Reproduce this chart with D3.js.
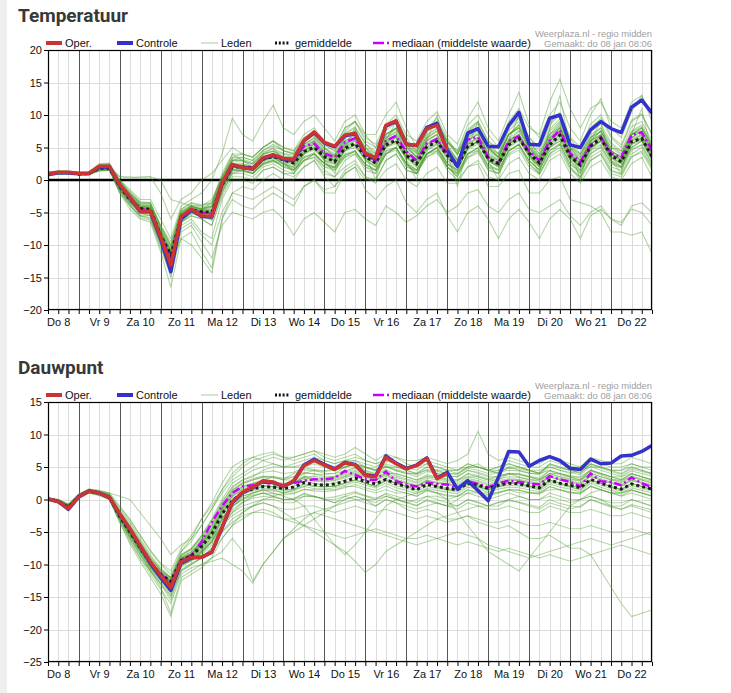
<!DOCTYPE html>
<html><head><meta charset="utf-8">
<script src="https://cdn.jsdelivr.net/npm/d3@7"></script>
<style>body{margin:0;background:#fff;}svg{display:block;}</style>
</head><body><svg id="c" width="731" height="693"></svg>
<script>
// ---- DATA ----
const startTime = Date.UTC(2026,0,8,6);
const endTime = Date.UTC(2026,0,23,0);
const stepHours = 6;
const dayLabels = ["Do 8","Vr 9","Za 10","Zo 11","Ma 12","Di 13","Wo 14","Do 15","Vr 16","Za 17","Zo 18","Ma 19","Di 20","Wo 21","Do 22"];
const tempTicks = [-20,-15,-10,-5,0,5,10,15,20];
const dewTicks = [-25,-20,-15,-10,-5,0,5,10,15];
const legendLabels = ["Oper.","Controle","Leden","gemiddelde","mediaan (middelste waarde)"];
const sourceText = ["Weerplaza.nl - regio midden","Gemaakt: do 08 jan 08:06"];

const tempOper = [0.9,1.2,1.2,1.0,1.0,2.1,2.1,-0.7,-2.6,-4.8,-4.8,-8.7,-13.1,-5.6,-4.5,-5.5,-5.6,-0.5,2.4,1.9,1.7,3.4,3.9,3.3,3.2,6.1,7.4,5.8,5.2,6.9,7.2,4.1,3.4,8.4,9.1,5.5,5.3,7.9,8.4,4.6];
const tempControl = [0.8,1.1,1.1,1.0,1.0,2.0,2.0,-0.8,-2.7,-4.9,-4.9,-9.0,-14.1,-6.0,-4.6,-5.6,-5.7,-0.6,2.3,1.9,1.7,3.3,3.8,3.2,3.0,6.0,7.3,5.7,5.1,6.8,7.1,4.0,3.3,8.3,9.0,5.5,5.3,8.1,8.7,4.6,2.1,7.2,7.9,5.2,5.1,8.4,10.4,5.5,5.4,9.5,10.0,5.4,5.0,7.7,9.0,7.9,7.3,11.2,12.3,10.3];
const tempMean = [1.0,1.1,1.1,0.9,1.0,1.8,1.8,-1.0,-3.0,-4.4,-4.5,-8.5,-11.5,-5.8,-4.6,-4.9,-5.0,-0.8,2.0,2.0,1.8,3.2,3.6,3.1,2.6,4.4,5.0,3.6,2.8,4.9,5.6,3.6,2.6,5.4,6.1,3.8,2.5,5.1,5.9,3.8,2.1,5.2,5.9,3.3,2.5,5.4,6.4,4.1,2.6,5.4,6.9,3.6,2.3,5.2,6.4,3.8,2.8,5.9,6.4,3.6];
const tempMedian = [1.0,1.1,1.1,0.9,1.0,1.9,1.9,-0.9,-2.9,-4.5,-4.6,-8.6,-12.0,-5.6,-4.5,-5.0,-5.2,-0.5,2.2,2.0,1.9,3.4,3.8,3.3,3.0,5.2,5.6,4.1,3.5,5.8,6.4,3.8,3.0,6.0,6.8,4.4,3.0,5.6,6.3,3.8,2.2,6.2,6.6,3.5,2.6,6.0,6.7,4.4,3.0,6.0,7.7,4.1,2.8,5.4,6.6,4.1,3.5,6.9,7.3,4.6];
const tempMembers = [
[1,1.2,1.3,1,1.1,2,2.2,-0.5,-2.5,-4,-4.2,-8,-11,-5,-4,-4.5,-4.8,-0.5,2.5,2.5,2,3.5,4,3.5,3,5,6,4,3,5.5,6.5,4,3,6,7,4.5,3,6,7,4.5,2.5,6,7,4,3,6,7.5,5,3,6,8,4,2.5,6,7,4.5,3,6.5,7.5,4.5],
[0.8,1,1,0.8,0.9,1.6,1.7,-1.5,-3.5,-5,-5.5,-9.5,-14,-6.5,-5,-5.5,-6,-1.5,1.5,1.5,1,2.5,3,2,1.5,3,4,2.5,1.5,3.5,4.5,2,1,4,5,2.5,1,3.5,4.5,2,0.5,3.5,4.5,1.5,1,4,5,2.5,1,4,5.5,2,0,3,4,1,0.5,3.5,4.5,2],
[1.2,1.4,1.3,1.1,1.2,2.4,2.5,0,-2,-3.5,-3.5,-7,-10,-4.5,-3.5,-4,-3,0.5,3.5,4,3.5,5,6,5,4.5,7,8,6,5,8,9,6.5,5.5,8.5,10,7,6,9,10.5,7,5.5,9.5,12,8,6,10,13.5,8.5,6.5,10,12,8,6,10,12.5,8,6.5,10.5,13,9],
[1,1.1,1.2,1,1,2,2,0.5,0.5,0.3,0.5,-2,-6,-3,-2,0,1,3,5,4,3.5,5,6,4.5,4,6,7,5,4,7,8,5.5,4,7,8,5,3.5,6.5,7.5,5,3,6.5,8,5,3.5,7,8.5,5.5,3,6.5,8,5,3,6,7.5,4.5,3.5,7,8,5],
[0.9,1,1,0.9,0.9,1.5,1.6,-2,-4.5,-6,-6.5,-11,-16.5,-9,-8,-11,-13.5,-6,-3,-4,-4.5,-3,-2,-3,-4,-1,0,-2,-2,1,2,0,0,3,4,1.5,1,4,5,2,0.5,4,5,2,1,4.5,5.5,2.5,1,4,5,2,0.5,3.5,4.5,1.5,1,4,5,2],
[0.8,0.9,0.9,0.8,0.8,1.4,1.5,-2,-4,-5.5,-6,-10,-15,-8,-7,-9.5,-12,-7,-5,-5.5,-6,-5,-4.5,-6,-8.5,-6,-5,-6.5,-8,-5,-4.5,-6,-7,-4,-5,-6.5,-5.5,-4,-3,-5,-4,-2,-1.5,-4,-5,-3,-2,-4.5,-5,-4,-3,-5.5,-7,-5,-4,-6,-6.5,-4.5,-5,-7],
[1,1.1,1.1,0.9,1,1.8,1.9,-1,-3,-4.5,-4.5,-8.5,-12,-6,-4.5,-5,-5,-1,1.5,1.5,1,3,3.5,2.5,2,4,5,3,2,4.5,5.5,3,2,5,6,3,1.5,4,4.5,1.5,0,2,2.5,-1,-1,1,1.5,-2,-2,0,0.5,-3,-3.5,-4,-5,-8,-8,-8.5,-8,-11.3],
[0.9,1,1.1,0.9,1,1.7,1.8,-1.2,-3.2,-4.8,-5,-9,-12.5,-6.5,-5.5,-6,-7,-2,1,1,0.5,2,2.5,1.5,1,3,3.5,2,1.5,3.5,4,2,1.5,4,5,2.5,1,4,5,2,1,4,5,2.5,1.5,4.5,5.5,3,1.5,5,6,3,1,4.5,5.5,2.5,2,5,6,3],
[1.1,1.3,1.3,1.1,1.2,2.2,2.3,-0.3,-2.2,-3.8,-3.8,-7.5,-10.5,-5,-4,-4.5,-4,0,3,3,2.5,4,4.5,4,3.5,5.5,6.5,5,3.5,6.5,7.5,5,3.5,7,8,5.5,3.5,7,8,5.5,3,7,8,5,3.5,7,8.5,6,3.5,7.5,9,5.5,3.5,7,8,5.5,4,7.5,8.5,5.5],
[1,1.2,1.2,1,1.1,2,2,0,-1.5,-3,-3,-6,-9,-4,-3,-2,0,4,9.5,7,6,9,11.5,8,7,9,10,8,6,9,10,7,5,8,9,6,4.5,8,9,6,4,7,8,5,4,7,8,6,4,7,8,5,4,6.5,7.5,5,4.5,7,8,5.5],
[0.7,0.9,0.9,0.7,0.8,1.4,1.5,-1.8,-3.8,-5.5,-5.8,-10,-13.5,-7,-6,-8,-9,-3,0,0,-0.5,1.5,2,1,1,3,4,2,2,4.5,5.5,3,2,5,6,3.5,2.5,5.5,6.5,4,2,5.5,6.5,3.5,2.5,6,7,4,2.5,6,7.5,4,2,5.5,6.5,3.5,2.5,6,7,4],
[1,1.1,1.1,1,1,1.9,2,0.5,0.3,0.5,0.5,0,-3,-3.5,-4,-5,-6,-2,1,1.5,1,2.5,3,2.5,2,4,5,3,2.5,5,6,3.5,2.5,5.5,6.5,3.5,2,5,6,3,1.5,5,6,3,2,5.5,7,4,2,6,7.5,4,1.5,5,6,3.5,2,5.5,6.5,3.5],
[1.1,1.2,1.2,1,1.1,2.1,2.2,-0.8,-2.8,-4.2,-4.4,-8.2,-11.5,-5.5,-4.5,-4.8,-5,-0.5,2,2,1.5,3,3.5,3,2.5,4.5,5.5,3.5,3,5.5,6.5,4.5,3.5,6.5,8,5.5,4,7.5,9,6,4.5,8.5,10,7,5,9,11,8,7,12,15.5,11,8,11,12,9,8,12,13,10],
[0.9,1,1,0.9,0.9,1.6,1.7,-1.5,-3.5,-5.2,-5.5,-9.5,-13,-9,-10,-12,-14.3,-6,-2,-1,-1.5,0,1,0,0,2,3,1,0.5,3,4,1.5,1,4,5,2,1.5,4.5,5.5,2.5,1.5,5,6,3,2,5.5,6.5,3.5,2,5.5,7,3.5,2,5,6,3,2,5.5,6.5,3.5],
[1,1.1,1.1,0.9,1,1.8,1.8,-1,-3,-4.5,-4.6,-8.6,-11.8,-5.8,-4.6,-5,-5.2,-1,2,2,1.8,3.2,3.6,3,2.5,4.4,5,3.5,2.8,5,5.5,3.5,2.5,5.5,6,3.8,2.5,5,6,3.8,2,5,6,3.3,2.5,5.5,6.5,4,2.5,5.5,7,3.5,2.3,5,6.5,3.8,2.8,6,6.5,3.5],
[1,1.1,1.1,1,1,1.8,1.9,-1,-2.8,-4.3,-4.4,-8.3,-11.3,-5.6,-4.4,-4.7,-4.5,0,2,2,1.5,3,3.5,2.5,1.5,3,3.5,1.5,0.5,2,3,0.5,-0.5,1.5,2.5,0,-1,1,2,-0.5,-0.5,2,3,0.5,0,2.5,3.5,1,0,3,4,1,-0.5,2,3,0.5,0,2.5,3.5,0.5],
[1.2,1.4,1.4,1.2,1.3,2.5,2.6,0,-1.8,-3.3,-3.5,-7,-9.5,-4.5,-3.5,-3.8,-3.5,0.5,4,4,3.5,5,6,5,4.5,6.5,7.5,5.5,4.5,7.5,9,6,5,8,9.5,6.5,4.5,8,9.5,6.5,4,7.5,9,6,4,8,9.5,6.5,4.5,8.5,10,6.5,4,8,9.5,6.5,5,9,10,7],
[0.8,0.9,1,0.8,0.9,1.5,1.6,-1.5,-3.8,-5.5,-5.5,-9.8,-13.5,-6.5,-5.5,-6,-7,-2.5,0.5,0.5,0,1.5,2,1,0.5,2,3,0.5,-1,1,2,-1.5,-3,-1,0,-3.5,-5,-3,-2,-5.5,-8,-5,-4,-6,-9,-6,-4.5,-6.5,-9,-6,-4.5,-6,-9,-5.5,-4.5,-6,-7,-4,-3.5,-5],
[1,1.2,1.2,1,1.1,2,2.1,-0.6,-2.6,-4.1,-4.2,-8,-11,-5.3,-4.3,-4.6,-4.3,-0.3,2.5,2.3,2,3.6,4,3.3,3,5,5.7,4,3.3,5.8,6.5,4,3,6,7,4.3,3,6.3,7,4.3,2.5,6.2,7,3.8,3,6.2,7,4.5,3,6.2,8,4,2.8,5.5,6.8,4,3.3,7,7.5,4.5],
[1,1.2,1.1,1,1.1,2,2,-0.8,-2.5,-4,-4.3,-8,-12.5,-5.5,-4,-4.5,-3.5,1,4,3,2,4,5,3,1,4,6,3,1,5,8,4,0,6,9,3,0,6,10,4,-1,5,9,3,0,6,10,4,1,8,13,5,0,6,9,3,1,7,11,4],
[0.9,1,1,0.9,0.9,1.6,1.7,-1.6,-4,-5.8,-6.2,-10.5,-14.5,-7.5,-6.5,-8.5,-10,-5,-2,-2.5,-3,-2,-1,-2,-3,-1,0,-1.5,-1,1.5,2.5,0.5,0,3,4,1.5,1,4,5,2.5,1.5,5,6,3,2,5.5,6.5,3.5,2,5,6,3,1.5,5,6,3,2,5,6,3.5],
[1.1,1.3,1.3,1.1,1.2,2.3,2.3,-0.2,-2,-3.5,-3.6,-7.2,-10,-4.8,-3.8,-4,-3.5,0.5,3,3.5,3,4.5,5.5,4.5,4,6,7,5.5,5,8,9,7,7,10,12,8,5,8,9,6,4,7,8,5,3.5,7,8,5,3,6.5,7.5,4.5,3,6,7,4,3,6.5,7.5,4.5],
[0.9,1,1,0.9,1,1.7,1.7,-1.3,-3.3,-4.9,-5.1,-9.2,-12.8,-6.2,-5,-5.5,-6,-1.5,1.5,1.5,1,2.5,3,2,1.5,3.5,4,2.5,2,4,4.5,2.5,1.5,4.5,5,2.5,1.5,4,5,2.5,1,4,4.5,2,1.5,4.5,5.5,3,1.5,4.5,5.5,2.5,1,4,5,2,1.5,4.5,5.5,2.5],
[1,1.2,1.2,1,1.1,2,2.1,-0.6,-2.4,-3.9,-4,-7.8,-10.8,-5.2,-4.2,-4.4,-4,0,3,3,2.5,4,4.5,3.5,3.5,5.5,6.5,4.5,3.5,6,7,4.5,3.5,6.5,7.5,5,3.5,6.5,7.5,5,3,6.5,7.5,4.5,3.5,7,8,5,3.5,7,8.5,5,3,6.5,7.5,4.5,3.5,7,8,5],
[1,1.1,1.2,1,1,1.9,2,-0.9,-2.9,-4.4,-4.5,-8.4,-11.6,-5.7,-4.6,-4.8,-4.9,-0.7,2.1,2.1,1.8,3.3,3.7,3.1,2.7,4.6,5.3,3.8,3,5.2,6,3.8,2.8,5.8,6.5,4,2.7,5.4,6.3,4,2.3,5.5,6.3,3.5,2.7,5.8,6.8,4.3,2.8,5.8,7.3,3.8,2.5,5.5,6.8,4,3,6.2,6.8,3.8],
[0.9,1,1,0.9,0.9,1.7,1.7,-1.2,-3.3,-4.7,-4.8,-8.8,-12.3,-6.2,-5,-5.3,-5.6,-1.2,1.6,1.7,1.5,2.8,3.2,2.7,2.2,4,4.6,3.2,2.4,4.5,5,3.2,2.2,5,5.6,3.4,2.1,4.6,5.5,3.4,1.8,4.7,5.5,3,2.2,5,6,3.7,2.2,5,6.4,3.2,2,4.6,6,3.4,2.5,5.5,6,3.2],
[1.1,1.2,1.2,1,1.1,2,2.1,-0.7,-2.7,-4.2,-4.3,-8.1,-11.2,-5.5,-4.4,-4.7,-4.6,-0.4,2.4,2.4,2.1,3.6,4.1,3.5,3.2,5.2,6,4.2,3.4,6,6.8,4.3,3.2,6.4,7.3,4.6,3.2,6,7,4.6,2.8,6.2,7.2,4.2,3.2,6.4,7.6,4.8,3.2,6.5,8.3,4.3,3,6,7.6,4.5,3.4,7,7.6,4.3],
[1,1.1,1.1,0.9,1,1.8,1.9,-1.1,-3.1,-4.6,-4.7,-8.7,-12,-6,-4.8,-5.1,-5.3,-1,1.8,1.9,1.7,3,3.4,2.9,2.4,4.2,4.8,3.4,2.6,4.7,5.3,3.4,2.4,5.2,5.8,3.6,2.3,4.8,5.7,3.6,1.9,4.9,5.8,3.1,2.3,5.2,6.2,3.9,2.4,5.2,6.6,3.4,2.1,4.8,6.2,3.6,2.6,5.7,6.2,3.4],
[1.2,1.3,1.3,1.1,1.2,2.2,2.3,-0.4,-2.3,-3.8,-3.9,-7.6,-10.6,-5.1,-4.1,-4.4,-4.1,0.2,3.2,3.2,2.7,4.3,4.8,4.1,3.8,6,6.8,4.8,3.8,6.6,7.6,4.8,3.6,7,7.8,5.2,3.6,6.8,7.8,5.2,3.2,6.8,7.8,4.8,3.6,7,8.2,5.4,3.6,7,8.8,5,3.4,6.6,8,5,3.8,7.4,8.2,5],
[0.9,1,1,0.8,0.9,1.6,1.6,-1.3,-3.4,-5,-5.2,-9.3,-12.9,-6.4,-5.2,-5.6,-6.2,-1.8,1.2,1.3,1,2.3,2.8,2.2,1.6,3.4,4,2.5,1.8,3.8,4.4,2.4,1.6,4.4,5,2.6,1.5,4,4.9,2.6,1.2,4.1,4.8,2.2,1.6,4.4,5.4,2.9,1.6,4.5,5.6,2.5,1.3,4.1,5.2,2.6,1.8,4.8,5.3,2.6],
[1.1,1.3,1.3,1.1,1.2,2.3,2.4,-0.2,-2.1,-3.6,-3.7,-7.3,-10.2,-4.9,-3.9,-4.2,-3.8,0.4,3.4,3.5,3,4.6,5.2,4.5,4.2,6.4,7.4,5.4,4.4,7.2,8.2,5.6,4.4,7.6,8.8,6,4.2,7.4,8.6,5.8,3.8,7.4,8.6,5.4,4,7.6,9,6,4,7.8,9.4,5.8,3.8,7.4,8.6,5.8,4.4,8.2,9,6],
[1,1.2,1.2,1,1,2,2,-0.9,-2.8,-4.3,-4.4,-8.3,-11.4,-5.6,-4.5,-4.7,-4.7,-0.6,2.2,2.2,1.9,3.4,3.8,3.2,2.8,4.8,5.5,4,3.1,5.4,6.2,3.9,2.9,5.9,6.7,4.1,2.9,5.6,6.6,4.1,2.4,5.6,6.6,3.6,2.9,5.9,7,4.4,2.9,6,7.6,3.9,2.6,5.6,7,4.1,3.1,6.4,7,4],
[0.9,1,1,0.9,1,1.7,1.8,-1.2,-3.2,-4.7,-4.9,-8.9,-12.2,-6.1,-4.9,-5.3,-5.6,-1.3,1.5,1.5,1.2,2.6,3,2.4,1.8,3.6,4.2,2.6,1.8,3.8,4.4,2.4,1.4,4,4.6,2.2,1,3.6,4.2,2,0.8,3.4,4.2,1.6,1,3.8,4.6,2,0.8,3.6,4.6,1.6,0.5,3,4,1.4,0.8,3.6,4.2,1.6],
[1.1,1.2,1.3,1.1,1.1,2.1,2.2,-0.6,-2.6,-4,-4.1,-7.9,-10.9,-5.3,-4.3,-4.5,-4.2,0,2.8,2.8,2.4,3.9,4.4,3.7,3.4,5.4,6.2,4.4,3.8,6.4,7.4,5,4,7,8,5.4,4.2,7.4,8.4,5.8,4.4,7.8,9,6,4.8,8.4,9.6,6.6,5,8.8,10.4,6.6,5,8.6,10,6.8,5.4,9.2,10.2,7]
];

const dewOper = [0.1,-0.3,-1.4,0.4,1.3,1.0,0.3,-2.2,-4.5,-7.1,-9.6,-11.7,-13.5,-9.6,-8.9,-8.9,-8.1,-4.3,-0.4,1.1,1.9,2.9,2.7,2.0,2.9,5.2,6.0,5.3,4.6,5.6,5.3,3.7,3.5,6.5,5.5,4.7,5.2,6.3,3.2,4.0];
const dewControl = [0.1,-0.3,-1.5,0.4,1.3,1.0,0.3,-2.3,-4.6,-7.2,-9.8,-12.0,-14.0,-9.8,-9.0,-8.9,-8.1,-4.4,-0.5,1.0,1.8,2.8,2.6,2.0,2.8,5.3,6.2,5.4,4.7,5.7,5.4,3.8,3.6,6.7,5.6,4.8,5.3,6.4,3.3,4.2,1.6,2.9,1.4,-0.2,3.4,7.4,7.3,5.1,6.0,6.6,6.0,4.8,4.6,6.2,5.5,5.6,6.7,6.8,7.4,8.3];
const dewMean = [0.1,-0.3,-1.2,0.5,1.3,1.0,0.3,-2.6,-5.0,-7.4,-9.8,-11.5,-12.6,-9.4,-8.7,-7.2,-5.3,-2.2,-0.2,1.1,1.6,2.0,1.9,1.7,1.9,2.6,2.3,2.2,2.4,2.8,3.3,2.8,2.4,3.1,2.4,2.0,1.5,2.3,2.0,1.7,1.5,2.5,2.2,1.7,2.2,2.5,2.4,2.1,1.8,3.0,2.5,2.2,1.8,3.1,2.5,2.0,1.6,2.4,2.0,1.6];
const dewMedian = [0.1,-0.3,-1.2,0.5,1.3,1.0,0.4,-2.3,-4.7,-7.2,-9.6,-11.5,-12.8,-9.3,-8.6,-6.5,-3.5,-1.0,1.0,2.0,2.2,2.6,2.4,2.2,2.5,2.9,3.1,3.1,3.3,4.4,3.8,3.1,3.0,4.3,2.8,2.3,2.0,2.6,2.4,2.3,1.7,2.8,2.4,1.9,2.5,2.9,2.7,2.5,2.3,3.6,3.1,2.7,2.0,4.0,2.8,2.7,2.2,3.4,2.5,1.9];
const dewMembers = [
[0.1,-0.3,-1.2,0.5,1.3,1,0.4,-2.5,-5,-7.5,-10,-11.8,-13,-9.5,-8.5,-7,-5,-2,0,1.2,1.8,2.2,2,1.8,2,2.8,2.5,2.3,2.5,3,3.5,3,2.5,3.2,2.5,2,1.5,2.5,2,1.8,1.5,2.5,2.2,1.8,2.2,2.6,2.4,2.1,1.8,3,2.5,2.2,1.8,3.1,2.5,2,1.6,2.4,2,1.6],
[0.2,-0.1,-0.8,0.7,1.5,1.2,0.8,-1.5,-3.5,-6,-8.5,-10.5,-12,-8.5,-7.5,-5.5,-3,0,2.5,3.5,4.5,5,5.5,5,5,5.5,6,5.5,5,5.5,6,5,4.5,5.5,5,4.5,4,5,4.5,4.5,4,5,5,4.5,4.5,5.5,5,4.5,4,5.5,5,4.5,4,5.5,5,4.5,4,5,4.5,4],
[-0.1,-0.6,-1.8,0.2,1,0.6,0,-3.5,-6.5,-9,-11,-13.5,-17.5,-12,-11,-10,-9,-8,-6,-8,-12.5,-10,-8,-6,-5,-4,-3,-2,-1,0,0.5,0,-1,0,-0.5,-1,-1.5,-1,-0.5,-1,0,1,0.5,0,0.5,1,0.5,0,0,1,0.5,0,0,0.5,0,-0.5,-0.5,0,-0.5,-1],
[0.2,0,-0.8,0.8,1.5,1.3,1,0.5,0,-2,-4,-6,-8.5,-7,-6,-4,-1.5,1,3,4,5,6,6.5,6,6.5,7,7.5,6.5,6,6.5,7,6,5.5,6,6.5,5.5,5,6,5.5,5,4.5,5.5,5,4.5,4,5,4.5,4,4,4.5,4,3.5,3.5,4.5,4,3.5,3.5,4,3.5,3],
[0,-0.4,-1.4,0.4,1.2,0.9,0.2,-2.8,-5.5,-8,-10.5,-12.5,-14.5,-10,-9.5,-8,-6.5,-4,-2,-0.5,0.5,1,0.5,0,0,1,0.5,0,-0.5,0.5,0,-0.5,-1,0,-0.5,-1.5,-2,-1.5,-2,-3,-3,-2.5,-3.5,-4,-4.5,-4,-5,-6,-6,-5.5,-6.5,-7.5,-7.5,-8.5,-11,-13.5,-16,-18,-17.5,-17],
[0,-0.5,-1.5,0.3,1.1,0.8,0.1,-3,-6,-8.5,-11,-13,-15.5,-11,-10,-9,-7.5,-5,-3,-2,-1,-0.5,-1,-2,-3,-4,-5,-6,-7,-8,-9.5,-11.2,-10,-8,-7,-6,-5,-4,-3,-2.5,-2,-1.5,-1,-1,-0.5,0,0.5,0,0,0.5,0,-0.5,0,0.5,0,-1,-1.5,-1,-1.5,-2],
[0.3,0,-0.7,0.8,1.6,1.4,1,-1,-3,-5.5,-8,-10,-11.5,-8,-6.5,-4,-1.5,1.5,4,5.5,6.5,7,7.3,6.5,6.5,7,7.5,7,6.5,7,8,7,6,7,6.5,6,6,6.5,6,5.5,6,7,10.5,7,6,6.5,6,5.5,5.5,6.5,6,5.5,5,6,5.5,5,5,5.5,5,5],
[0,-0.4,-1.3,0.4,1.2,0.9,0.3,-2.8,-5.3,-7.8,-10.3,-12.2,-14,-10,-9,-8,-6.5,-3,-1,0,0.5,1,0.5,0,0,0.5,0.5,0,0,0.5,1,0.5,0,1,0.5,0,-0.5,0.5,0,-0.5,-1,0,-0.5,-1,-1,0,-0.5,-1,-1.5,-0.5,-1,-1.5,-1,0,-0.5,-1,-1,0,-0.5,-1],
[0.1,-0.2,-1,0.6,1.4,1.1,0.6,-2,-4.5,-7,-9.5,-11.3,-12.5,-9,-8,-6.5,-4,-1,1.5,2.5,3,3.5,3.5,3,3.5,4,4,3.5,3.5,4,4.5,4,3.5,4,4,3.5,3,3.5,3.5,3,3,3.5,3.5,3,3,4,3.5,3,3,4,4,3.5,3,4.5,4,3.5,3,4,3.5,3],
[0,-0.5,-1.5,0.3,1.1,0.8,0.1,-3,-5.8,-8.5,-11,-13,-15,-11,-10,-9,-8,-6,-4,-3,-2,-1.5,-2,-3,-3.5,-4,-4.5,-5,-5.5,-6,-5.5,-5,-4.5,-5,-5.5,-6,-6,-5.5,-6,-6.5,-7,-6.5,-7,-7.5,-8,-7.5,-8,-8.5,-9,-8.5,-9,-9.5,-9,-8.5,-8,-7.5,-7,-7.5,-8,-8.5],
[0.1,-0.3,-1.1,0.5,1.3,1,0.5,-2.3,-4.8,-7.2,-9.8,-11.5,-12.8,-9.3,-8.5,-7,-5,-2,0,1,1.5,2,2,1.5,1.5,2.5,2,2,2,2.5,3,2.5,2,3,2.5,2,1.5,2.5,2,1.5,1.5,2.5,2,1.5,2,2.5,2.5,2,1.5,3,2.5,2,1.5,3,2.5,2,1.5,2.5,2,1.5],
[0.2,-0.1,-0.9,0.7,1.5,1.2,0.7,-1.8,-4,-6.5,-9,-10.8,-12,-8,-6,-3,-0.5,2.5,5,6,6.5,6,5.5,5,5,5,5.5,5,4.5,5,5.5,4.5,4,5,4.5,4,4,4.5,4,3.5,3.5,4.5,4,3.5,3.5,4,4,3.5,3,4,3.5,3,3,4,3.5,3,3,3.5,3,2.5],
[0,-0.5,-1.6,0.2,1,0.7,0,-3.2,-6.2,-9,-11.5,-13.8,-16,-11.5,-10.5,-10,-9.5,-9,-10,-11,-12.9,-10,-8,-6,-4.5,-3,-2,-1.5,-1,-0.5,0,0,0,0.5,0,-0.5,0,0.5,0.5,0,0.5,1,1,0.5,1,1.5,1,1,1,1.5,1.5,1,1,2,1.5,1,1,1.5,1,0.5],
[0.1,-0.2,-1,0.6,1.4,1.1,0.6,-2.2,-4.6,-7,-9.5,-11.2,-12.5,-9,-8.3,-6.8,-4.5,-1.5,1,2,2.5,3,3.5,3,3,4,4.5,4,4,5,5.5,5,4.5,5,5,4.5,4,5,4.5,4,4,5,5.5,4.5,4,5,5,4.5,4,5.5,5,4.5,4.5,5.5,5,4.5,4.5,5.5,5,4.5],
[0,-0.4,-1.3,0.4,1.2,0.9,0.3,-2.6,-5.2,-7.6,-10.2,-12,-13.8,-10.2,-9.2,-8.5,-7,-4,-2.5,-1.5,-1,-0.5,-1,-1.5,-1.5,-1,-1,-1.5,-2,-1.5,-1,-1.5,-2,-1.5,-2,-2.5,-3,-2.5,-3,-3.5,-3,-2.5,-3,-3.5,-3.5,-3,-3.5,-4,-4,-3.5,-4,-4.5,-4.5,-4,-4.5,-5,-5,-4.5,-5,-5.5],
[0.1,-0.3,-1.2,0.5,1.3,1,0.4,-2.4,-4.9,-7.4,-9.9,-11.6,-12.9,-9.4,-8.6,-7.2,-5.3,-2.2,-0.2,1.1,1.6,2,1.9,1.7,2.9,3.6,3.3,3.2,3.4,3.8,4.3,3.8,3.4,4.1,3.4,3,2.5,3.3,3,2.7,2.5,3.5,3.2,2.7,3.2,3.5,3.4,3.1,2.8,4,3.5,3.2,2.8,4.1,3.5,3,2.6,3.4,3,2.6],
[0.1,-0.2,-1.1,0.6,1.4,1,0.5,-2.1,-4.6,-7.1,-9.6,-11.4,-12.6,-9.2,-8.4,-6.8,-4.8,-1.5,0.5,1.5,2,2.5,2.5,2.2,2.5,3.5,3,2.8,3,3.5,4,3.5,3,3.8,3,2.5,2,3,2.5,2.5,2,3,2.5,1.5,2.5,3,3,2.5,2.5,3.5,3,2.5,2.5,3.5,3,2.5,2,3,2.5,2],
[0,-0.5,-1.5,0.3,1.1,0.8,0.1,-3,-5.8,-8.3,-10.8,-12.8,-14.8,-10.8,-9.8,-9,-7.5,-5,-3.5,-2.5,-2,-2,-2.5,-3,-3,-2.5,-2,-2.5,-3,-3.5,-4,-4.5,-5,-5.5,-6,-6.5,-7,-6.5,-6,-5.5,-5,-5.5,-6,-7,-7.5,-8,-8.5,-9,-8.5,-8,-7.5,-7,-6.5,-6,-6.5,-7,-6.5,-6,-5.5,-5],
[0.2,-0.1,-0.9,0.7,1.5,1.2,0.7,-1.7,-3.8,-6.3,-8.8,-10.8,-12.2,-8.6,-7.6,-5.8,-3.5,-0.5,2,3,3.5,4.5,5,5,5.5,6,6.5,6,5.5,6,6.5,6,5.5,6,5.5,5,5,5.5,5,4.5,4.5,5,5,4.5,5,5.5,5,4.5,4.5,5,4.5,4,4.5,5,5,4.5,4.5,5,4.5,4],
[0.1,-0.3,-1.2,0.5,1.3,1,0.4,-2.5,-5,-7.5,-10,-11.8,-13.2,-9.6,-8.8,-7.5,-5.8,-3,-1,0.5,1,1.5,1.5,1,1,1.5,1.5,1.5,1.5,2,2,1.5,1,1.5,1,1,0.5,1.5,1,0.5,0.5,1.5,1,1,1,1.5,1.5,1,1,2,1.5,1,1,2,1.5,1,1,1.5,1,0.5],
[0,-0.5,-1.6,0.2,1,0.7,0,-3.5,-6.8,-9.5,-12,-14.5,-18,-12.5,-11.5,-10.5,-9,-6,-4,-2,-1,0,0.5,1,1.5,2,2.5,2,2,2.5,3,2.5,2,3,2.5,2,2,2.5,2,1.5,1.5,2.5,2,1.5,2,2.5,2.5,2,2,3,2.5,2,2,3,2.5,2,1.5,2.5,2,1.5],
[0.2,0,-0.8,0.8,1.6,1.3,0.9,-1.2,-3.2,-5.5,-7.8,-9.8,-11,-7.5,-5.5,-3,-1,1.5,3.5,5,6,6.5,7,6.5,6,6.5,7,6,5.5,6,6,5.5,5,6,5.5,5,4.5,5.5,5,4.5,4.5,5.5,5,4.5,5,6,5.5,5,5,6,5.5,5,5,6.5,6,5.5,5.5,6.5,6,5.5],
[0,-0.4,-1.3,0.4,1.2,0.9,0.3,-2.7,-5.4,-7.9,-10.4,-12.3,-14.2,-10.4,-9.4,-8.2,-6.5,-4,-2,-1,-0.5,0,0,-0.5,-0.5,0.5,0.5,0,-0.5,0,0.5,0,-0.5,0.5,0,-0.5,-1,0,-0.5,-1,-1.5,-0.5,-1,-1.5,-1.5,-1,-1.5,-2,-2,-1,-1.5,-2,-2,-1.5,-2,-2.5,-2.5,-2,-2.5,-3],
[0.1,-0.3,-1.2,0.5,1.3,1,0.4,-2.4,-5,-7.5,-10,-12,-13.5,-9.8,-9,-7.8,-6,-3,-1,0,1,1.5,1,0.5,0,-1,-3,-5,-7,-8.5,-7,-5,-3,-1,0,0.5,1,1.5,1,0,-2,-4,-6,-8,-9,-10,-11,-9,-7,-5,-3,-1,0,1,1.5,1,0.5,1,0.5,0],
[0.1,-0.2,-1.1,0.6,1.4,1.1,0.5,-2.3,-4.8,-7.2,-9.7,-11.4,-12.7,-9.2,-8.4,-6.6,-4.4,-1.4,0.8,2,2.5,2.8,2.7,2.5,2.7,3.3,3.1,3,3.2,3.6,4.1,3.6,3.1,3.9,3.1,2.7,2.2,3,2.7,2.4,2.2,3.2,2.9,2.4,2.9,3.2,3.1,2.8,2.5,3.7,3.2,2.9,2.5,3.8,3.2,2.7,2.3,3.1,2.7,2.3],
[0,-0.4,-1.3,0.4,1.2,0.9,0.3,-2.7,-5.2,-7.6,-10,-11.7,-13,-9.6,-8.9,-7.6,-5.8,-2.8,-0.7,0.5,1,1.4,1.3,1.1,1.3,2,1.7,1.6,1.8,2.2,2.7,2.2,1.8,2.5,1.8,1.4,0.9,1.7,1.4,1.1,0.9,1.9,1.6,1.1,1.6,1.9,1.8,1.5,1.2,2.4,1.9,1.6,1.2,2.5,1.9,1.4,1,1.8,1.4,1],
[0.2,-0.1,-1,0.7,1.5,1.2,0.6,-2,-4.4,-6.8,-9.2,-11,-12.2,-8.8,-7.8,-6,-3.8,-0.8,1.4,2.6,3.2,3.6,3.5,3.3,3.5,4.2,3.9,3.8,4,4.4,4.9,4.4,3.9,4.6,3.9,3.5,3,3.8,3.5,3.2,3,4,3.7,3.2,3.7,4,3.9,3.6,3.3,4.5,4,3.7,3.3,4.6,4,3.5,3.1,3.9,3.5,3.1],
[0.1,-0.3,-1.2,0.5,1.3,1,0.4,-2.6,-5.1,-7.5,-10,-11.6,-12.9,-9.5,-8.7,-7.3,-5.5,-2.4,-0.4,0.8,1.3,1.7,1.6,1.4,1.6,2.3,2,1.9,2.1,2.5,3,2.5,2.1,2.8,2.1,1.7,1.2,2,1.7,1.4,1.2,2.2,1.9,1.4,1.9,2.2,2.1,1.8,1.5,2.7,2.2,1.9,1.5,2.8,2.2,1.7,1.3,2.1,1.7,1.3],
[0.1,-0.2,-1,0.6,1.4,1.1,0.6,-2.1,-4.5,-7,-9.4,-11.2,-12.4,-9,-8.1,-6.3,-4,-1,1.2,2.4,3,3.4,3.3,3.1,4,4.6,4.4,4.3,4.5,4.9,5.4,4.9,4.4,5.1,4.4,4,3.5,4.3,4,3.7,3.5,4.5,4.2,3.7,4.2,4.5,4.4,4.1,3.8,5,4.5,4.2,3.8,5.1,4.5,4,3.6,4.4,4,3.6],
[0,-0.4,-1.4,0.4,1.2,0.9,0.2,-2.8,-5.4,-7.8,-10.3,-12,-13.4,-9.8,-9.1,-7.9,-6.2,-3.2,-1.2,0.2,0.7,1,0.9,0.7,0.9,1.6,1.3,1.2,1.4,1.8,2.3,1.8,1.4,2.1,1.4,1,0.5,1.3,1,0.7,0.5,1.5,1.2,0.7,1.2,1.5,1.4,1.1,0.8,2,1.5,1.2,0.8,2.1,1.5,1,0.6,1.4,1,0.6],
[0.1,-0.3,-1.1,0.5,1.3,1,0.5,-2.4,-4.9,-7.3,-9.8,-11.5,-12.7,-9.3,-8.5,-7,-5,-1.8,0.4,1.6,2.1,2.5,2.4,2.2,2.4,3.1,2.8,2.7,2.9,3.3,3.8,3.3,2.9,3.6,2.9,2.5,2,2.8,2.5,2.2,2,3,2.7,2.2,2.7,3,2.9,2.6,2.3,3.5,3,2.7,2.3,3.6,3,2.5,2.1,2.9,2.5,2.1],
[0.2,-0.1,-0.9,0.7,1.5,1.2,0.7,-1.9,-4.2,-6.6,-9,-10.9,-12.1,-8.6,-7.6,-5.6,-3.2,-0.4,1.8,3,3.7,4.2,4.4,4,4.2,4.9,4.6,4.4,4.7,5,5.5,5,4.6,5.2,4.6,4.2,3.8,4.6,4.3,4,3.8,4.8,4.5,4,4.5,4.8,4.7,4.4,4.1,5.3,4.8,4.5,4.1,5.4,4.8,4.3,3.9,4.7,4.3,3.9],
[0,-0.5,-1.4,0.3,1.1,0.8,0.2,-2.9,-5.6,-8.1,-10.6,-12.4,-13.8,-10.1,-9.3,-8.2,-6.6,-3.6,-1.6,-0.4,0.2,0.5,0.3,0,0.2,0.8,0.4,0.2,0.4,0.8,1.2,0.6,0.2,0.8,0.1,-0.4,-0.9,-0.2,-0.6,-1,-1,0,-0.4,-1,-0.4,-0.2,-0.4,-0.8,-1.2,0,-0.6,-1,-1.2,0,-0.6,-1.2,-1.5,-0.8,-1.2,-1.6],
[0.1,-0.2,-1,0.6,1.4,1.1,0.6,-2.2,-4.7,-7.1,-9.6,-11.3,-12.6,-9.1,-8.3,-6.6,-4.6,-1.6,0.6,1.8,2.3,2.7,2.6,2.4,2.6,3.4,3.6,3.3,3.6,4.2,4.8,4.2,3.7,4.5,3.6,3.2,2.7,3.6,3.2,2.9,2.8,3.9,3.5,3,3.5,3.9,3.8,3.4,3.1,4.4,3.8,3.4,3,4.4,3.8,3.2,2.8,3.6,3.2,2.8]
];

// ---- DRAWING ----
const W = 731, H = 693;
const left = 48, right = 652, plotH = 260;
const svg = d3.select("#c");
svg.append("rect").attr("width", W).attr("height", H).attr("fill", "#fff");
svg.append("rect").attr("x", 0).attr("y", 0).attr("width", 7).attr("height", H).attr("fill", "#efefef");

const x = d3.scaleUtc().domain([new Date(startTime), new Date(endTime)]).range([left, right]);
const times = d3.range(tempMean.length).map(i => new Date(startTime + i * stepHours * 3600e3));
const sixHours = d3.utcHour.every(6).range(new Date(startTime), new Date(endTime + 1));
const midnights = d3.utcDay.range(new Date(startTime + 1), new Date(endTime));
const noons = d3.utcDay.range(new Date(startTime - 6 * 3600e3), new Date(endTime)).map(d => new Date(+d + 12 * 3600e3));
const FONT = "'Liberation Sans', Arial, sans-serif";

const colors = {oper: "#cc3333", control: "#3333cc", member: "#4a9e2a", mean: "#1e1e1e", median: "#cc00ff"};

function drawPanel(top, title, ticks, oper, control, mean, median, members, thickZero, id) {
  const y = d3.scaleLinear().domain([ticks[0], ticks[ticks.length - 1]]).range([top + plotH, top]);
  const g = svg.append("g");

  g.append("text").attr("x", 18).attr("y", top - 28).text(title)
    .attr("font-family", "Roboto, 'Open Sans', sans-serif").attr("font-weight", 700)
    .attr("font-size", 19).attr("fill", "#383838");

  sourceText.forEach((t, i) => {
    g.append("text").attr("x", right).attr("y", top - 13 + i * 10).attr("text-anchor", "end")
      .attr("font-family", FONT).attr("font-size", 9.4).attr("fill", "#a0a0a0").text(t);
  });

  const grid = g.append("g");
  grid.selectAll(".hg").data(ticks).join("line")
    .attr("x1", left).attr("x2", right)
    .attr("y1", d => Math.round(y(d)) + 0.5).attr("y2", d => Math.round(y(d)) + 0.5)
    .attr("stroke", "#dcdcdc").attr("stroke-width", 1);
  grid.selectAll(".vg").data(sixHours).join("line")
    .attr("x1", d => Math.round(x(d)) + 0.5).attr("x2", d => Math.round(x(d)) + 0.5)
    .attr("y1", top).attr("y2", top + plotH)
    .attr("stroke", "#dcdcdc").attr("stroke-width", 1);
  grid.selectAll(".dg").data(midnights).join("line")
    .attr("x1", d => Math.round(x(d)) + 0.5).attr("x2", d => Math.round(x(d)) + 0.5)
    .attr("y1", top).attr("y2", top + plotH)
    .attr("stroke", "#555").attr("stroke-width", 1);

  if (thickZero) {
    g.append("line").attr("x1", left).attr("x2", right).attr("y1", y(0)).attr("y2", y(0))
      .attr("stroke", "#000").attr("stroke-width", 2.5);
  }

  svg.append("clipPath").attr("id", id).append("rect")
    .attr("x", left).attr("y", top).attr("width", right - left).attr("height", plotH);
  const plot = g.append("g").attr("clip-path", `url(#${id})`);
  const line = d3.line().x((d, i) => x(times[i])).y(d => y(d));

  plot.selectAll(".m").data(members).join("path").attr("d", line)
    .attr("fill", "none").attr("stroke", colors.member).attr("stroke-opacity", 0.42).attr("stroke-width", 1.1);
  plot.append("path").attr("d", line(median)).attr("fill", "none").attr("stroke", colors.median)
    .attr("stroke-width", 2.5).attr("stroke-dasharray", "8,3,2,3");
  plot.append("path").attr("d", line(mean)).attr("fill", "none").attr("stroke", colors.mean)
    .attr("stroke-width", 3).attr("stroke-dasharray", "3,3");
  plot.append("path").attr("d", line(control)).attr("fill", "none").attr("stroke", colors.control)
    .attr("stroke-width", 3.5).attr("stroke-linejoin", "round");
  plot.append("path").attr("d", line(oper)).attr("fill", "none").attr("stroke", colors.oper)
    .attr("stroke-width", 3.5).attr("stroke-linejoin", "round");

  g.append("rect").attr("x", left + 0.5).attr("y", top + 0.5).attr("width", right - left - 1).attr("height", plotH - 1)
    .attr("fill", "none").attr("stroke", "#000").attr("stroke-width", 1.2);

  const ya = g.append("g").attr("transform", `translate(${left},0)`)
    .call(d3.axisLeft(y).tickValues(ticks).tickSize(4).tickSizeOuter(0).tickPadding(2).tickFormat(d3.format("d")));
  ya.select(".domain").attr("stroke", "#000");
  ya.selectAll("text").attr("font-family", FONT).attr("font-size", 11).attr("fill", "#111");
  ya.selectAll(".tick line").attr("stroke", "#000");

  const xa = g.append("g").attr("transform", `translate(0,${top + plotH})`)
    .call(d3.axisBottom(x).tickValues(sixHours).tickSize(4).tickSizeOuter(0).tickFormat(""));
  xa.select(".domain").remove();
  xa.selectAll(".tick line").attr("stroke", "#000");
  const xl = g.append("g").attr("transform", `translate(0,${top + plotH})`)
    .call(d3.axisBottom(x).tickValues(noons).tickSize(0).tickPadding(8).tickFormat((d, i) => dayLabels[i]));
  xl.select(".domain").remove();
  xl.selectAll("text").attr("font-family", FONT).attr("font-size", 11).attr("fill", "#111");

  const ly = top - 3;
  const items = [
    {x: 46, x2: 62, tx: 65, c: colors.oper, w: 4, dash: null},
    {x: 117, x2: 133, tx: 136, c: colors.control, w: 4, dash: null},
    {x: 201, x2: 218, tx: 221, c: "#9fd08a", w: 1, dash: null},
    {x: 275, x2: 289, tx: 295, c: "#111", w: 3, dash: "2,1.8"},
    {x: 373, x2: 389, tx: 392, c: colors.median, w: 2.5, dash: "11,3,2,3"}
  ];
  items.forEach((it, i) => {
    g.append("line").attr("x1", it.x).attr("x2", it.x2).attr("y1", ly - 4).attr("y2", ly - 4)
      .attr("stroke", it.c).attr("stroke-width", it.w).attr("stroke-dasharray", it.dash);
    g.append("text").attr("x", it.tx).attr("y", ly).attr("font-family", FONT).attr("font-size", 11)
      .attr("fill", "#111").text(legendLabels[i]);
  });
}

drawPanel(50, "Temperatuur", tempTicks, tempOper, tempControl, tempMean, tempMedian, tempMembers, true, "clipT");
drawPanel(402, "Dauwpunt", dewTicks, dewOper, dewControl, dewMean, dewMedian, dewMembers, false, "clipD");
</script>
</body></html>
